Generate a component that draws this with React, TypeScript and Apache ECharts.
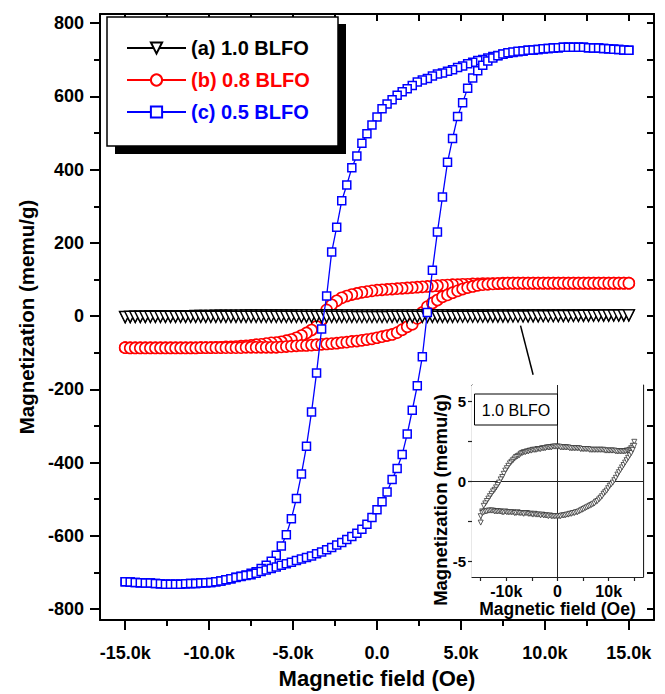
import React, { useEffect, useRef } from 'react';
import * as echarts from 'echarts';

// Magnetic field sweep (kOe)
const fieldKOe = [
  -15.0, -14.7, -14.4, -14.1, -13.8, -13.5, -13.2, -12.9, -12.6, -12.3,
  -12.0, -11.7, -11.4, -11.1, -10.8, -10.5, -10.2, -9.9, -9.6, -9.3,
  -9.0, -8.7, -8.4, -8.1, -7.8, -7.5, -7.2, -6.9, -6.6, -6.3,
  -6.0, -5.7, -5.4, -5.1, -4.8, -4.5, -4.2, -3.9, -3.6, -3.3,
  -3.0, -2.7, -2.4, -2.1, -1.8, -1.5, -1.2, -0.9, -0.6, -0.3,
  0.0, 0.3, 0.6, 0.9, 1.2, 1.5, 1.8, 2.1, 2.4, 2.7,
  3.0, 3.3, 3.6, 3.9, 4.2, 4.5, 4.8, 5.1, 5.4, 5.7,
  6.0, 6.3, 6.6, 6.9, 7.2, 7.5, 7.8, 8.1, 8.4, 8.7,
  9.0, 9.3, 9.6, 9.9, 10.2, 10.5, 10.8, 11.1, 11.4, 11.7,
  12.0, 12.3, 12.6, 12.9, 13.2, 13.5, 13.8, 14.1, 14.4, 14.7,
  15.0,
];

// (a) 1.0 BLFO (memu/g): upper (descending-field) and lower (ascending-field) branches
const blackDown = [
  -2.6, -1.9, -1.55, -1.4, -1.25, -1.1, -0.95, -0.8, -0.65, -0.55,
  -0.4, -0.25, -0.1, 0.1, 0.25, 0.45, 0.65, 0.8, 0.95, 1.1,
  1.2, 1.3, 1.4, 1.5, 1.55, 1.6, 1.7, 1.75, 1.8, 1.8,
  1.85, 1.85, 1.9, 1.9, 1.95, 1.95, 1.95, 2.0, 2.0, 2.0,
  2.05, 2.05, 2.05, 2.1, 2.1, 2.1, 2.1, 2.15, 2.15, 2.15,
  2.15, 2.15, 2.1, 2.1, 2.1, 2.1, 2.1, 2.1, 2.05, 2.05,
  2.05, 2.05, 2.05, 2.05, 2.05, 2.0, 2.0, 2.0, 2.0, 2.0,
  2.0, 1.95, 1.95, 1.95, 1.95, 1.95, 1.95, 1.95, 1.95, 1.95,
  1.95, 1.9, 1.9, 1.9, 1.9, 1.9, 1.9, 1.9, 1.85, 1.85,
  1.85, 1.85, 1.85, 1.85, 1.85, 1.9, 1.9, 1.95, 2.05, 2.2,
  2.45,
];
const blackUp = [
  -2.2, -2.0, -1.95, -1.9, -1.9, -1.85, -1.85, -1.85, -1.85, -1.9,
  -1.9, -1.9, -1.9, -1.9, -1.95, -1.95, -1.9, -1.95, -1.95, -1.95,
  -1.95, -1.95, -2.0, -2.0, -1.95, -2.0, -2.0, -2.0, -2.05, -2.0,
  -2.0, -2.05, -2.05, -2.05, -2.1, -2.05, -2.1, -2.1, -2.1, -2.15,
  -2.1, -2.15, -2.15, -2.15, -2.2, -2.15, -2.2, -2.2, -2.2, -2.2,
  -2.2, -2.2, -2.2, -2.15, -2.15, -2.15, -2.1, -2.1, -2.05, -2.05,
  -2.0, -2.0, -1.95, -1.95, -1.9, -1.85, -1.8, -1.75, -1.7, -1.65,
  -1.6, -1.55, -1.5, -1.45, -1.4, -1.3, -1.25, -1.15, -1.05, -0.95,
  -0.8, -0.7, -0.6, -0.45, -0.3, -0.2, -0.1, 0.05, 0.2, 0.4,
  0.55, 0.7, 0.85, 1.0, 1.15, 1.3, 1.45, 1.6, 1.75, 1.95,
  2.2,
];

// (b) 0.8 BLFO (memu/g)
const redDown = [
  -86, -86, -86, -86, -86, -86, -86, -86, -86, -86,
  -86, -86, -86, -86, -86, -86, -86, -86, -85, -85,
  -84, -84, -83, -82, -81, -80, -78, -77, -75, -73,
  -72, -70, -67, -64, -59, -53, -46, -38, -28, -10,
  17, 31, 42, 50, 55, 59, 62, 65, 67, 69,
  71, 72, 73, 74, 75, 76, 77, 78, 79, 80,
  81, 82, 83, 84, 85, 86, 86, 87, 87, 88,
  88, 89, 89, 89, 89, 90, 90, 90, 90, 90,
  90, 90, 90, 90, 90, 90, 90, 90, 90, 90,
  90, 90, 90, 90, 90, 90, 90, 90, 90, 90,
  90,
];
const redUp = [
  -86, -87, -87, -87, -87, -87, -87, -87, -87, -87,
  -87, -87, -87, -87, -87, -86, -86, -86, -86, -86,
  -86, -86, -86, -86, -85, -85, -85, -85, -85, -85,
  -85, -84, -83, -82, -81, -80, -80, -79, -78, -77,
  -76, -75, -74, -72, -71, -69, -68, -66, -64, -62,
  -59, -56, -53, -50, -45, -37, -29, -22, -6, 10,
  26, 36, 44, 53, 58, 64, 69, 74, 78, 81,
  84, 86, 87, 88, 89, 89, 90, 90, 90, 90,
  90, 90, 90, 90, 90, 90, 90, 90, 90, 90,
  90, 90, 90, 90, 90, 90, 90, 90, 90, 90,
  90,
];

// (c) 0.5 BLFO (memu/g)
const blueDown = [
  -725, -726, -727, -728, -729, -729, -730, -731, -732, -732,
  -732, -732, -731, -730, -730, -729, -728, -727, -725, -723,
  -720, -717, -713, -710, -707, -702, -698, -689, -680, -669,
  -653, -628, -597, -553, -498, -431, -355, -262, -155, -35,
  55, 175, 243, 315, 358, 405, 437, 472, 498, 522,
  544, 566, 579, 591, 603, 613, 621, 630, 639, 645,
  649, 656, 661, 664, 669, 673, 679, 683, 689, 693,
  698, 701, 705, 709, 712, 715, 718, 720, 722, 724,
  726, 727, 728, 730, 731, 732, 733, 734, 734, 734,
  734, 734, 733, 732, 732, 731, 730, 729, 728, 727,
  726,
];
const blueUp = [
  -725, -726, -727, -728, -729, -729, -730, -731, -732, -732,
  -732, -732, -731, -730, -730, -729, -728, -727, -725, -723,
  -720, -717, -714, -711, -708, -706, -702, -697, -693, -689,
  -685, -680, -676, -672, -667, -663, -659, -655, -649, -644,
  -638, -632, -625, -618, -610, -602, -593, -582, -568, -550,
  -529, -507, -480, -446, -416, -378, -322, -257, -190, -111,
  10, 125, 230, 325, 420, 485, 545, 583, 622, 650,
  670, 685, 697, 705, 711, 716, 719, 721, 723, 724,
  726, 727, 728, 730, 731, 732, 733, 734, 734, 734,
  734, 734, 733, 732, 732, 731, 730, 729, 728, 727,
  726,
];

const seriesNames = ['(a) 1.0 BLFO', '(b) 0.8 BLFO', '(c) 0.5 BLFO'];
const seriesColors = ['#000000', '#ff0000', '#0000ff'];

const xMajorTicks = [-15, -10, -5, 0, 5, 10, 15];
const xMinorTicks = [-12.5, -7.5, -2.5, 2.5, 7.5, 12.5];
const xTopTicks = [-15, -12.5, -10, -7.5, -5, -2.5, 0, 2.5, 5, 7.5, 10, 12.5, 15];
const yMajorTicks = [-800, -600, -400, -200, 0, 200, 400, 600, 800];
const yMinorTicks = [-700, -500, -300, -100, 100, 300, 500, 700];
const yRightTicks = [-800, -700, -600, -500, -400, -300, -200, -100, 0, 100, 200, 300, 400, 500, 600, 700, 800];

const insetXLabels = [-10, 0, 10];
const insetXTicks = [-15, -10, -5, 0, 5, 10, 15];
const insetYLabels = [-5, 0, 5];
const insetYTicks = [-5, -2.5, 0, 2.5, 5];

const arrowFrom = [8.55, -26];
const arrowTo = [9.3, -160];

const FONT = 'Liberation Sans, Arial, sans-serif';
const TRI = 'path://M0,0L10,0L5,10Z';

function loop(down: number[], up: number[]) {
  const pts: number[][] = [];
  for (let i = fieldKOe.length - 1; i >= 0; i--) pts.push([fieldKOe[i], down[i]]);
  for (let i = 0; i < fieldKOe.length; i++) pts.push([fieldKOe[i], up[i]]);
  return pts;
}

export default function App() {
  const ref = useRef<HTMLDivElement>(null);
  useEffect(() => {
    if (!ref.current) return;
    const chart = echarts.init(ref.current, undefined, { renderer: 'svg' });
    const black = '#000';
    const mainLine = { onZero: false, lineStyle: { color: black, width: 2 } };
    const insetLine = { onZero: false, lineStyle: { color: '#222', width: 1.2 } };
    const option: any = {
      animation: false,
      backgroundColor: '#fff',
      textStyle: { fontFamily: FONT },
      grid: [
        { left: 100, top: 14, right: 11, bottom: 68, show: false },
        { left: 472, top: 385, right: 22, bottom: 117, show: true, backgroundColor: '#fff', borderWidth: 0, z: 3 },
      ],
      legend: {
        orient: 'vertical',
        left: 126,
        top: 38,
        padding: 0,
        itemWidth: 59,
        itemHeight: 14,
        itemGap: 12,
        selectedMode: false,
        z: 20,
        lineStyle: { width: 2 },
        textStyle: { fontSize: 20, fontWeight: 'bold', fontFamily: FONT, lineHeight: 20 },
        data: seriesNames.map((n, i) => ({ name: n, textStyle: { color: seriesColors[i] } })),
      },
      xAxis: [
        {
          gridIndex: 0, type: 'value', position: 'bottom', min: -16.5, max: 16.5,
          axisLine: mainLine,
          axisTick: { customValues: xMajorTicks, length: 10, lineStyle: { color: black, width: 2 } },
          axisLabel: {
            customValues: xMajorTicks, margin: 24, fontSize: 18, fontWeight: 'bold', color: black, fontFamily: FONT,
            formatter: (v: number) => (v === 0 ? '0.0' : v.toFixed(1) + 'k'),
          },
          splitLine: { show: false },
          name: 'Magnetic field (Oe)', nameLocation: 'middle', nameGap: 46,
          nameTextStyle: { fontSize: 22, fontWeight: 'bold', color: black, fontFamily: FONT },
        },
        {
          gridIndex: 0, type: 'value', position: 'bottom', min: -16.5, max: 16.5,
          axisLine: { show: false, onZero: false },
          axisTick: { customValues: xMinorTicks, length: 6, lineStyle: { color: black, width: 2 } },
          axisLabel: { show: false }, splitLine: { show: false },
        },
        {
          gridIndex: 0, type: 'value', position: 'top', min: -16.5, max: 16.5,
          axisLine: mainLine,
          axisTick: { customValues: xTopTicks, inside: true, length: 7, lineStyle: { color: black, width: 2 } },
          axisLabel: { show: false }, splitLine: { show: false },
        },
        {
          gridIndex: 1, type: 'value', position: 'bottom', min: -16.7, max: 16.7,
          axisLine: insetLine,
          axisTick: { customValues: insetXTicks, length: 4, lineStyle: { color: '#222', width: 1.2 } },
          axisLabel: {
            customValues: insetXLabels, margin: 6, fontSize: 16, fontWeight: 'bold', color: black, fontFamily: FONT,
            formatter: (v: number) => (v === 0 ? '0' : v + 'k'),
          },
          splitLine: { show: false },
          name: 'Magnetic field (Oe)', nameLocation: 'middle', nameGap: 21,
          nameTextStyle: { fontSize: 17.5, fontWeight: 'bold', color: black, fontFamily: FONT },
        },
        {
          gridIndex: 1, type: 'value', position: 'top', min: -16.7, max: 16.7,
          axisLine: insetLine,
          axisTick: { customValues: insetXTicks, inside: true, length: 3, lineStyle: { color: '#222', width: 1 } },
          axisLabel: { show: false }, splitLine: { show: false },
        },
      ],
      yAxis: [
        {
          gridIndex: 0, type: 'value', position: 'left', min: -830, max: 825,
          axisLine: mainLine,
          axisTick: { customValues: yMajorTicks, length: 10, lineStyle: { color: black, width: 2 } },
          axisLabel: { customValues: yMajorTicks, margin: 16, fontSize: 18, fontWeight: 'bold', color: black, fontFamily: FONT },
          splitLine: { show: false },
          name: 'Magnetization (memu/g)', nameLocation: 'middle', nameGap: 62,
          nameTextStyle: { fontSize: 20.5, fontWeight: 'bold', color: black, fontFamily: FONT },
        },
        {
          gridIndex: 0, type: 'value', position: 'left', min: -830, max: 825,
          axisLine: { show: false, onZero: false },
          axisTick: { customValues: yMinorTicks, length: 6, lineStyle: { color: black, width: 2 } },
          axisLabel: { show: false }, splitLine: { show: false },
        },
        {
          gridIndex: 0, type: 'value', position: 'right', min: -830, max: 825,
          axisLine: mainLine,
          axisTick: { customValues: yRightTicks, inside: true, length: 7, lineStyle: { color: black, width: 2 } },
          axisLabel: { show: false }, splitLine: { show: false },
        },
        {
          gridIndex: 1, type: 'value', position: 'left', min: -6, max: 6,
          axisLine: insetLine,
          axisTick: { customValues: insetYTicks, length: 4, lineStyle: { color: '#222', width: 1.2 } },
          axisLabel: { customValues: insetYLabels, margin: 6, fontSize: 15, fontWeight: 'bold', color: black, fontFamily: FONT },
          splitLine: { show: false },
        },
        {
          gridIndex: 1, type: 'value', position: 'right', min: -6, max: 6,
          axisLine: insetLine,
          axisTick: { customValues: insetYTicks, inside: true, length: 3, lineStyle: { color: '#222', width: 1 } },
          axisLabel: { show: false }, splitLine: { show: false },
        },
      ],
      series: [
        {
          name: seriesNames[1], type: 'line', xAxisIndex: 0, yAxisIndex: 0,
          data: loop(redDown, redUp), symbol: 'circle', symbolSize: 11, showAllSymbol: true,
          lineStyle: { color: seriesColors[1], width: 1 },
          itemStyle: { color: '#fff', borderColor: seriesColors[1], borderWidth: 1.6 },
          silent: true, z: 2,
        },
        {
          name: seriesNames[0], type: 'line', xAxisIndex: 0, yAxisIndex: 0,
          data: loop(blackDown, blackUp), symbol: TRI, symbolSize: 11, showAllSymbol: true,
          lineStyle: { color: seriesColors[0], width: 1 },
          itemStyle: { color: '#fff', borderColor: seriesColors[0], borderWidth: 1.4 },
          silent: true, z: 3,
          markLine: {
            silent: true, symbol: ['none', 'arrow'], symbolSize: [0, 9],
            lineStyle: { color: black, width: 1.5, type: 'solid' },
            label: { show: false },
            data: [[{ coord: arrowFrom }, { coord: arrowTo }]],
          },
        },
        {
          name: seriesNames[2], type: 'line', xAxisIndex: 0, yAxisIndex: 0,
          data: loop(blueDown, blueUp), symbol: 'rect', symbolSize: 8, showAllSymbol: true,
          lineStyle: { color: seriesColors[2], width: 1.3 },
          itemStyle: { color: '#fff', borderColor: seriesColors[2], borderWidth: 1.5 },
          silent: true, z: 4,
        },
        {
          name: 'inset', type: 'line', xAxisIndex: 3, yAxisIndex: 3,
          data: loop(blackDown, blackUp), symbol: TRI, symbolSize: 5, showAllSymbol: true,
          lineStyle: { color: '#666', width: 0.6 },
          itemStyle: { color: '#fff', borderColor: '#333', borderWidth: 0.8 },
          silent: true, z: 5,
          markLine: {
            silent: true, symbol: ['none', 'none'],
            lineStyle: { color: '#222', width: 1, type: 'solid' },
            label: { show: false },
            data: [{ xAxis: 0 }, { yAxis: 0 }],
          },
        },
      ],
      graphic: [
        { type: 'rect', z: 10, shape: { x: 115, y: 24, width: 231, height: 130 }, style: { fill: '#000' } },
        { type: 'rect', z: 11, shape: { x: 107, y: 17, width: 231, height: 129 }, style: { fill: '#fff', stroke: '#000', lineWidth: 1.5 } },
        { type: 'rect', z: 50, shape: { x: 474.5, y: 394, width: 83, height: 31 }, style: { fill: '#fff', stroke: '#000', lineWidth: 1 } },
        {
          type: 'text', z: 51, x: 516, y: 410,
          style: { text: '1.0 BLFO', fontSize: 16, fontFamily: FONT, fill: '#000', align: 'center', verticalAlign: 'middle' },
        },
        {
          type: 'text', z: 51, x: 440, y: 500, rotation: Math.PI / 2,
          style: { text: 'Magnetization (memu/g)', fontSize: 18.5, fontWeight: 'bold', fontFamily: FONT, fill: '#000', align: 'center', verticalAlign: 'middle' },
        },
      ],
    };
    chart.setOption(option);
    return () => chart.dispose();
  }, []);
  return (
    <div
      ref={ref}
      style={{ position: 'absolute', left: 0, top: 0, width: 665, height: 694, background: '#fff' }}
    />
  );
}
